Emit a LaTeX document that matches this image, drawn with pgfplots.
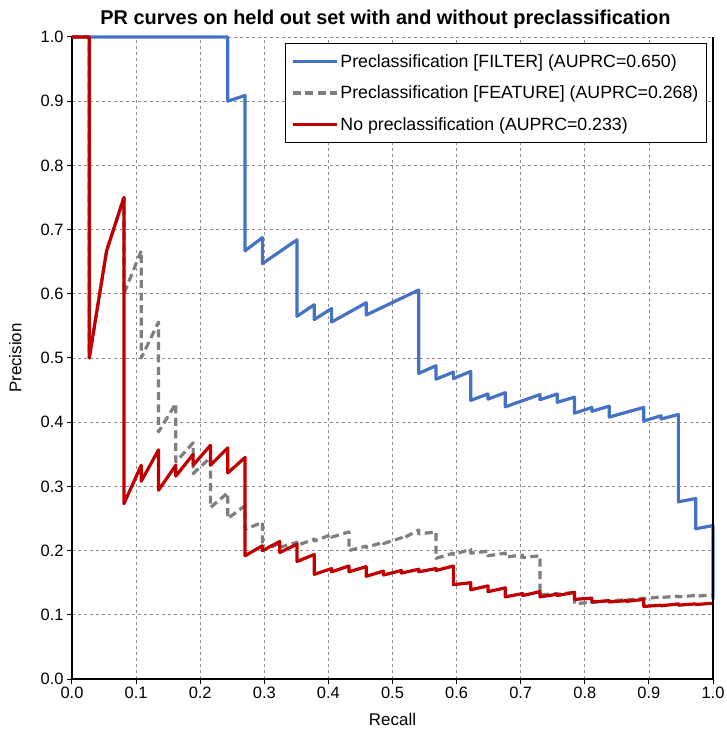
\documentclass[border=0pt]{standalone}
\usepackage{pgfplots}
\pgfplotsset{compat=1.18}
\usepackage{fontspec}
\setmainfont{Liberation Sans}

\definecolor{cblue}{HTML}{4472C4}
\definecolor{cgray}{HTML}{7F7F7F}
\definecolor{cred}{HTML}{C00000}

\begin{document}
\begin{tikzpicture}
\begin{axis}[
    name=ax,
    scale only axis,
    width=641bp, height=642bp,
    xmin=0, xmax=1, ymin=0, ymax=1,
    xtick={0,0.1,...,1.0}, ytick={0,0.1,...,1.0},
    /pgf/number format/.cd, fixed, fixed zerofill, precision=1, assume math mode=true,
    /pgfplots/.cd,
    ticklabel style={font=\fontsize{16.5}{19}\selectfont},
    tick align=outside, major tick length=5bp,
    tick style={black, line width=1bp},
    axis x line*=bottom, axis y line*=left,
    axis line style={black, line width=1.3bp, -},
    grid=major,
    major grid style={cgray!90, line width=0.8bp, dash pattern=on 3bp off 3bp},
    xlabel={Recall}, ylabel={Precision},
    label style={font=\fontsize{17}{20}\selectfont},
    xlabel style={at={(axis description cs:0.5,0)}, anchor=north, yshift=-31bp},
    ylabel style={at={(axis description cs:-0.0733,0.5)}, anchor=south, rotate=0},
    title={\bfseries PR curves on held out set with and without preclassification},
    title style={font=\fontsize{20}{24}\selectfont, at={(0.5,1)}, anchor=south, yshift=-1bp, xshift=-7bp},
    clip=false,
    legend cell align=left,
    legend image code/.code={\draw[#1] (0bp,0bp) -- (44bp,0bp);},
    legend style={at={(0.9906,0.9907)}, anchor=north east, draw=black, line width=1.2bp,
        font=\fontsize{17.8}{21}\selectfont, row sep=13bp, inner xsep=6bp, inner ysep=9bp,
        nodes={inner sep=2bp}},
    every axis plot/.append style={line width=3.2bp, line join=round},
]

\addplot[cblue] coordinates {
(0,1) (0.243,1) (0.243,0.9) (0.270,0.909) (0.270,0.667) (0.297,0.6875) (0.297,0.647)
(0.351,0.684) (0.351,0.565) (0.378,0.583) (0.378,0.56) (0.405,0.577) (0.405,0.556)
(0.459,0.586) (0.459,0.567) (0.541,0.606) (0.541,0.476) (0.568,0.488) (0.568,0.467)
(0.595,0.478) (0.595,0.468) (0.622,0.479) (0.622,0.434) (0.649,0.444) (0.649,0.436)
(0.676,0.446) (0.676,0.424) (0.730,0.443) (0.730,0.435) (0.757,0.444) (0.757,0.431)
(0.784,0.439) (0.784,0.414) (0.811,0.423) (0.811,0.417) (0.838,0.425) (0.838,0.408)
(0.892,0.423) (0.892,0.402) (0.919,0.41) (0.919,0.405) (0.946,0.412) (0.946,0.276)
(0.973,0.281) (0.973,0.234) (1.0,0.239) (1.0,0.124)
};
\addlegendentry{Preclassification [FILTER] (AUPRC=0.650)}

\addplot[cgray, dash pattern=on 8bp off 4.5bp] coordinates {
(0,1) (0.027,1) (0.027,0.5) (0.054,0.667) (0.081,0.75) (0.081,0.6) (0.108,0.667)
(0.108,0.5) (0.135,0.556) (0.135,0.385) (0.162,0.429) (0.162,0.338) (0.189,0.368)
(0.189,0.320) (0.216,0.345) (0.216,0.267) (0.243,0.290) (0.243,0.250) (0.270,0.270)
(0.270,0.233) (0.297,0.244) (0.297,0.200) (0.324,0.211) (0.324,0.205) (0.351,0.213)
(0.351,0.208) (0.378,0.218) (0.378,0.215) (0.405,0.225) (0.405,0.221) (0.432,0.229)
(0.432,0.200) (0.459,0.207) (0.459,0.205) (0.486,0.213) (0.486,0.211) (0.514,0.220)
(0.514,0.218) (0.541,0.232) (0.541,0.226) (0.568,0.229) (0.568,0.188) (0.595,0.196)
(0.595,0.194) (0.622,0.202) (0.622,0.196) (0.649,0.199) (0.649,0.192) (0.676,0.196)
(0.676,0.190) (0.703,0.193) (0.703,0.189) (0.730,0.192) (0.730,0.131) (0.757,0.133)
(0.757,0.132) (0.784,0.135) (0.784,0.117) (0.811,0.120) (0.811,0.119) (0.838,0.122)
(0.838,0.121) (0.865,0.124) (0.865,0.123) (0.892,0.126) (0.892,0.125) (0.919,0.128)
(0.919,0.127) (0.946,0.129) (0.946,0.128) (0.973,0.130) (0.973,0.129) (1.0,0.131)
};
\addlegendentry{Preclassification [FEATURE] (AUPRC=0.268)}

\addplot[cred] coordinates {
(0,1) (0.027,1) (0.027,0.5) (0.054,0.667) (0.081,0.75) (0.081,0.273) (0.108,0.333)
(0.108,0.308) (0.135,0.357) (0.135,0.294) (0.162,0.333) (0.162,0.316) (0.189,0.35)
(0.189,0.333) (0.216,0.364) (0.216,0.333) (0.243,0.36) (0.243,0.321) (0.270,0.345)
(0.270,0.192) (0.297,0.2075) (0.297,0.2) (0.324,0.214) (0.324,0.197) (0.351,0.21)
(0.351,0.183) (0.378,0.194) (0.378,0.163) (0.405,0.172) (0.405,0.167) (0.432,0.176)
(0.432,0.167) (0.459,0.175) (0.459,0.160) (0.486,0.168) (0.486,0.162) (0.514,0.169)
(0.514,0.165) (0.541,0.171) (0.541,0.167) (0.568,0.172) (0.568,0.169) (0.595,0.176)
(0.595,0.147) (0.622,0.150) (0.622,0.139) (0.649,0.145) (0.649,0.136) (0.676,0.142)
(0.676,0.128) (0.703,0.133) (0.703,0.130) (0.730,0.136) (0.730,0.128) (0.757,0.132)
(0.757,0.130) (0.784,0.135) (0.784,0.124) (0.811,0.126) (0.811,0.120) (0.838,0.122)
(0.838,0.120) (0.865,0.122) (0.865,0.121) (0.892,0.124) (0.892,0.113) (0.919,0.115)
(0.919,0.114) (0.946,0.117) (0.946,0.115) (0.973,0.117) (0.973,0.116) (1.0,0.118)
};
\addlegendentry{No preclassification (AUPRC=0.233)}

\draw[black, line width=1.3bp] (rel axis cs:1,0) -- (rel axis cs:1,1);
\end{axis}
\pgfresetboundingbox
\path (ax.south west) ++(-72bp,-59bp) rectangle ([shift={(14bp,37bp)}]ax.north east);
\end{tikzpicture}
\end{document}
